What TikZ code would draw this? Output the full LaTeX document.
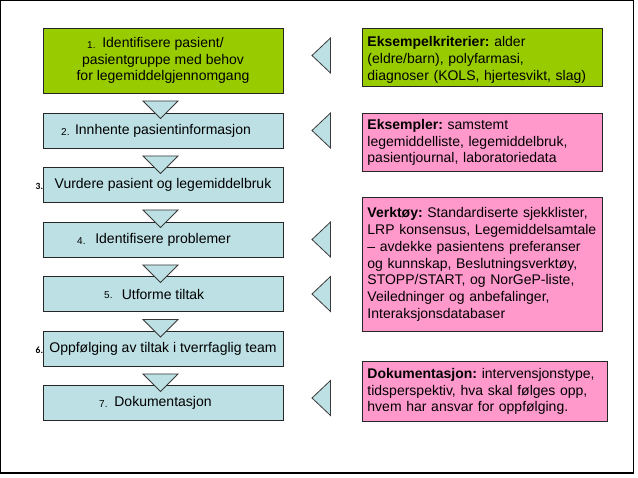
\documentclass[tikz,border=0pt]{standalone}
\usepackage{fontspec}
\setmainfont{Liberation Sans}
\newfontfamily\calibfont{Carlito}
\usetikzlibrary{calc}
\definecolor{lgreen}{HTML}{99CC00}
\definecolor{lblue}{HTML}{BDE0E4}
\definecolor{lpink}{HTML}{FF99CC}
\definecolor{edgecol}{HTML}{262626}
\definecolor{tricol}{HTML}{3A3A3A}
\frenchspacing
\hyphenpenalty=10000\relax
\exhyphenpenalty=10000\relax
\begin{document}
\begin{tikzpicture}[x=1pt,y=-1pt,
  lbox/.style={draw=edgecol, line width=0.9pt, fill=lblue, minimum width=240pt,
    minimum height=35pt, inner sep=0pt, align=center,
    font=\fontsize{14}{16.4}\selectfont},
  rbox/.style={draw=edgecol, line width=0.9pt, fill=lpink, anchor=north west,
    text width=230pt, inner xsep=5pt, inner ysep=0pt, align=left,
    font=\fontsize{14}{16.7}\selectfont},
  num/.style={inner sep=0pt, anchor=base west, font=\fontsize{10}{12}\selectfont},
  cnum/.style={inner sep=0pt, anchor=base west, font=\calibfont\bfseries\fontsize{9.5}{11}\selectfont},
  tristyle/.style={draw=tricol, line width=0.8pt, fill=lblue, line join=miter},
  dtri/.pic={\draw[tristyle] (-17.5,0) -- (17.5,0) -- (0,17.5) -- cycle;},
  ltri/.pic={\draw[tristyle] (0,-17.5) -- (0,17.5) -- (-18.5,0) -- cycle;}
]
\useasboundingbox (0,0) rectangle (638,478);
\fill[white] (0,0) rectangle (638,478);
\draw[line width=1.4pt, black] (0.8,0.8) rectangle (633.2,473.2);

% left column
\node[lbox, fill=lgreen, minimum height=65pt] (b1) at (163,60.5)
  {Identifisere pasient/\\pasientgruppe med behov\\for legemiddelgjennomgang};
\node[lbox] (b2) at (163,130.5) {Innhente pasientinformasjon};
\node[lbox] (b3) at (163,184.5) {Vurdere pasient og legemiddelbruk};
\node[lbox] (b4) at (163,239.5) {Identifisere problemer};
\node[lbox] (b5) at (163,294) {Utforme tiltak};
\node[lbox] (b6) at (163,348.5) {Oppfølging av tiltak i tverrfaglig team};
\node[lbox] (b7) at (163,403) {Dokumentasjon};

% numbers
\node[num] (n1) at (87,48.5) {1.};
\node[num] (n2) at (61,135.5) {2.};
\node[cnum] (n3) at (35.5,189.5) {3.};
\node[num] (n4) at (77,244.5) {4.};
\node[num] (n5) at (104,299) {5.};
\node[cnum] (n6) at (35.5,353.5) {6.};
\node[num] (n7) at (99,408) {7.};

% down triangles between steps
\pic at ($(b1.south)+(-2.5,7.5)$) {dtri};
\pic at ($(b2.south)+(-2.5,7.5)$) {dtri};
\pic at ($(b3.south)+(-2.5,7.5)$) {dtri};
\pic at ($(b4.south)+(-2.5,7.5)$) {dtri};
\pic at ($(b5.south)+(-2.5,7.5)$) {dtri};
\pic at ($(b6.south)+(-2.5,7.5)$) {dtri};

% right column
\node[rbox, fill=lgreen, minimum height=58pt] (rA) at (362,28)
  {\rule{0pt}{15.4pt}\textbf{Eksempelkriterier:} alder\\(eldre/barn), polyfarmasi,\\diagnoser (KOLS, hjertesvikt, slag)};
\node[rbox, minimum height=58pt] (rB) at (362,113)
  {\textbf{Eksempler:} samstemt\\legemiddelliste, legemiddelbruk,\\pasientjournal, laboratoriedata};
\node[rbox, minimum height=134pt] (rC) at (362,197)
  {\textbf{Verktøy:} Standardiserte sjekklister,\\\mbox{LRP konsensus, Legemiddelsamtale}\\– avdekke pasientens preferanser\\og kunnskap, Beslutningsverktøy,\\STOPP/START, og NorGeP-liste,\\Veiledninger og anbefalinger,\\Interaksjonsdatabaser};
\node[rbox, text width=235pt, minimum height=60pt] (rD) at (362,361)
  {\textbf{Dokumentasjon:} intervensjonstype,\\tidsperspektiv, hva skal følges opp,\\hvem har ansvar for oppfølging.};

% left-pointing triangles
\pic at (330.5,55.5) {ltri};
\pic at (330.5,130.5) {ltri};
\pic at (330.5,239.5) {ltri};
\pic at (330.5,294) {ltri};
\pic at (330.5,398) {ltri};
\end{tikzpicture}
\end{document}
